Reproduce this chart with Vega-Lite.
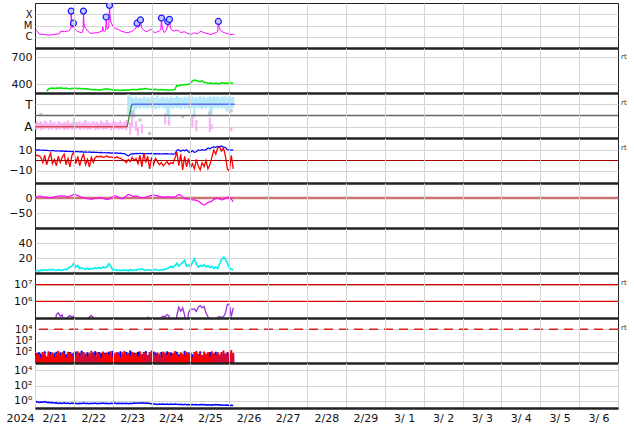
{
"$schema":"https://vega.github.io/schema/vega-lite/v6.json",
"padding":{"left":5,"top":2,"right":2,"bottom":0},
"background":"white",
"spacing":0,
"bounds":"flush",
"config":{
 "view":{"stroke":"#222","strokeWidth":1},
 "axis":{"labelFont":"DejaVu Sans","labelFontSize":11,"labelColor":"#111","gridColor":"#d4d4d4","gridWidth":1,"ticks":false,"domain":false,"labelPadding":3,"labelOverlap":false},
 "text":{"font":"DejaVu Sans"}
},
"datasets":{
 "xr":[{"d":0,"v":2.3e-6},{"d":0.03,"v":3.7e-6},{"d":0.07,"v":2.8e-6},{"d":0.12,"v":1.6e-6},{"d":0.18,"v":1.7e-6},{"d":0.25,"v":1.6e-6},{"d":0.33,"v":1.4e-6},{"d":0.42,"v":1.5e-6},{"d":0.5,"v":1.6e-6},{"d":0.57,"v":1.7e-6},{"d":0.63,"v":1.9e-6},{"d":0.67,"v":3.2e-6},{"d":0.72,"v":2.9e-6},{"d":0.76,"v":2.8e-6},{"d":0.8,"v":3.1e-6},{"d":0.85,"v":3.2e-6},{"d":0.89,"v":3.7e-6},{"d":0.925,"v":6e-6},{"d":0.931,"v":1.9e-4},{"d":0.945,"v":1.5e-5},{"d":0.956,"v":6.4e-6},{"d":0.975,"v":9e-6},{"d":0.99,"v":1.6e-5},{"d":1.01,"v":6e-6},{"d":1.033,"v":4.6e-6},{"d":1.07,"v":3.5e-6},{"d":1.1,"v":2.8e-6},{"d":1.15,"v":2.6e-6},{"d":1.19,"v":2.3e-6},{"d":1.23,"v":2.6e-6},{"d":1.24,"v":5e-6},{"d":1.247,"v":1.9e-4},{"d":1.26,"v":1.5e-5},{"d":1.273,"v":9e-6},{"d":1.31,"v":5e-6},{"d":1.359,"v":3.2e-6},{"d":1.4,"v":2.4e-6},{"d":1.445,"v":2e-6},{"d":1.53,"v":2.2e-6},{"d":1.616,"v":2.3e-6},{"d":1.66,"v":2.6e-6},{"d":1.702,"v":3.2e-6},{"d":1.73,"v":3e-6},{"d":1.745,"v":7.4e-6},{"d":1.76,"v":3.5e-6},{"d":1.787,"v":2.8e-6},{"d":1.81,"v":3.2e-6},{"d":1.825,"v":6e-6},{"d":1.83,"v":5.7e-5},{"d":1.845,"v":8e-6},{"d":1.865,"v":4.6e-6},{"d":1.9,"v":8e-6},{"d":1.916,"v":6.2e-4},{"d":1.935,"v":4e-5},{"d":1.959,"v":1.8e-5},{"d":2.0,"v":9e-6},{"d":2.045,"v":6.4e-6},{"d":2.09,"v":5e-6},{"d":2.13,"v":4.6e-6},{"d":2.17,"v":3.8e-6},{"d":2.216,"v":3.2e-6},{"d":2.3,"v":2.6e-6},{"d":2.388,"v":2.3e-6},{"d":2.43,"v":2.6e-6},{"d":2.473,"v":2.8e-6},{"d":2.52,"v":3.4e-6},{"d":2.559,"v":4.6e-6},{"d":2.6,"v":6e-6},{"d":2.627,"v":1.6e-5},{"d":2.645,"v":7e-6},{"d":2.662,"v":6.4e-6},{"d":2.69,"v":8e-6},{"d":2.713,"v":3.1e-5},{"d":2.74,"v":7e-6},{"d":2.773,"v":4.6e-6},{"d":2.82,"v":3.5e-6},{"d":2.859,"v":2.8e-6},{"d":2.92,"v":3.5e-6},{"d":2.987,"v":4.6e-6},{"d":3.03,"v":3.2e-6},{"d":3.073,"v":2.3e-6},{"d":3.12,"v":2.6e-6},{"d":3.159,"v":2.8e-6},{"d":3.21,"v":3.4e-6},{"d":3.24,"v":5e-6},{"d":3.253,"v":4.6e-5},{"d":3.27,"v":8e-6},{"d":3.287,"v":4.6e-6},{"d":3.33,"v":2.3e-6},{"d":3.37,"v":3.5e-6},{"d":3.4,"v":6e-6},{"d":3.416,"v":2.3e-5},{"d":3.435,"v":1e-5},{"d":3.458,"v":3.5e-5},{"d":3.48,"v":8e-6},{"d":3.501,"v":4.6e-6},{"d":3.55,"v":3.5e-6},{"d":3.587,"v":3.2e-6},{"d":3.63,"v":3.8e-6},{"d":3.673,"v":3.7e-6},{"d":3.72,"v":3e-6},{"d":3.758,"v":2.3e-6},{"d":3.8,"v":2.6e-6},{"d":3.844,"v":2.8e-6},{"d":3.89,"v":2.3e-6},{"d":3.93,"v":2e-6},{"d":3.97,"v":1.8e-6},{"d":4.015,"v":1.6e-6},{"d":4.06,"v":1.9e-6},{"d":4.101,"v":2.3e-6},{"d":4.14,"v":2e-6},{"d":4.187,"v":1.9e-6},{"d":4.23,"v":2.5e-6},{"d":4.273,"v":3.2e-6},{"d":4.31,"v":2.6e-6},{"d":4.358,"v":2.3e-6},{"d":4.4,"v":2e-6},{"d":4.444,"v":1.9e-6},{"d":4.49,"v":1.7e-6},{"d":4.53,"v":1.6e-6},{"d":4.6,"v":2e-6},{"d":4.658,"v":2.3e-6},{"d":4.7,"v":3e-6},{"d":4.718,"v":2.3e-5},{"d":4.74,"v":7e-6},{"d":4.77,"v":3.7e-6},{"d":4.82,"v":2.8e-6},{"d":4.872,"v":2.3e-6},{"d":4.92,"v":2e-6},{"d":4.958,"v":1.9e-6},{"d":5.0,"v":1.7e-6},{"d":5.044,"v":1.6e-6},{"d":5.09,"v":1.7e-6},{"d":5.13,"v":1.6e-6}],
 "fl":[{"d":0.931,"v":1.9e-4},{"d":0.99,"v":1.6e-5},{"d":1.247,"v":1.9e-4},{"d":1.83,"v":5.7e-5},{"d":1.916,"v":6.2e-4},{"d":2.627,"v":1.6e-5},{"d":2.713,"v":3.1e-5},{"d":3.253,"v":4.6e-5},{"d":3.416,"v":2.3e-5},{"d":3.458,"v":3.5e-5},{"d":4.718,"v":2.3e-5}],
 "sec":[{"d":0,"s":1,"g":"a"},{"d":2.37,"s":1,"g":"a"},{"d":2.37,"s":1,"g":"b"},{"d":2.49,"s":3,"g":"b"},{"d":2.49,"s":3,"g":"c"},{"d":5.13,"s":3,"g":"c"}],
 "ts":[
{"d":0,"alo":0.8,"ahi":1.3,"bt":10.5,"bz":4,"dst":3,"cy":3,"pu":2e4,"pr":45,"pb":60,"bl":0.6},
{"d":0.05,"alo":0.75,"ahi":1.45,"bt":10,"bz":5,"dst":4,"cy":3.5,"pu":2e4,"pr":80,"pb":40,"bl":0.7},
{"d":0.1,"alo":0.85,"ahi":1.35,"bt":10.2,"bz":4.5,"dst":6,"cy":2.5,"pu":2e4,"pr":60,"pb":90,"bl":0.55},
{"d":0.15,"alo":0.7,"ahi":1.5,"gr":2.1,"bt":9.8,"bz":3,"dst":6,"cy":4,"pu":2e4,"pr":30,"pb":70,"bl":0.65},
{"d":0.2,"alo":0.8,"ahi":1.3,"bt":10,"bz":-2,"dst":4,"cy":3.5,"pu":2e4,"pr":95,"pb":50,"bl":0.6},
{"d":0.25,"alo":0.78,"ahi":1.55,"bt":9.6,"bz":5,"dst":3,"cy":4.5,"pu":2e4,"pr":70,"pb":110,"bl":0.7},
{"d":0.3,"sw":320,"alo":0.9,"ahi":1.4,"bt":9.8,"bz":-4,"dst":3,"cy":3.5,"pu":2e4,"pr":40,"pb":35,"bl":0.55},
{"d":0.35,"sw":345,"alo":0.72,"ahi":1.3,"bt":9.5,"bz":2,"dst":2,"cy":4.5,"pu":2e4,"pr":110,"pb":80,"bl":0.6},
{"d":0.4,"sw":352,"alo":0.82,"ahi":1.6,"bt":9.3,"bz":7,"dst":1,"cy":4,"pu":2e4,"pr":55,"pb":95,"bl":0.5},
{"d":0.45,"sw":355,"alo":0.75,"ahi":1.35,"bt":9.6,"bz":-3,"dst":2,"cy":5,"pu":2e4,"pr":85,"pb":45,"bl":0.55},
{"d":0.5,"sw":350,"alo":0.88,"ahi":1.45,"bt":9.2,"bz":1,"dst":4,"cy":4,"pu":2e4,"pr":35,"pb":75,"bl":0.45},
{"d":0.55,"sw":356,"alo":0.7,"ahi":1.25,"bt":9,"bz":-5,"dst":5,"cy":3.5,"pu":1.6e5,"pr":70,"pb":100,"bl":0.5},
{"d":0.6,"sw":352,"alo":0.8,"ahi":1.5,"bt":9.3,"bz":4,"dst":6,"cy":4.5,"pu":2e5,"pr":120,"pb":55,"bl":0.4},
{"d":0.65,"sw":358,"alo":0.76,"ahi":1.4,"bt":8.9,"bz":-2,"dst":7,"cy":4,"pu":1.3e5,"pr":50,"pb":85,"bl":0.45},
{"d":0.7,"sw":354,"alo":0.85,"ahi":1.3,"bt":9.1,"bz":3,"dst":6,"cy":3.5,"pu":1.5e5,"pr":90,"pb":40,"bl":0.4},
{"d":0.75,"sw":350,"alo":0.7,"ahi":1.45,"bt":8.8,"bz":6,"dst":7,"cy":5,"pu":2e4,"pr":65,"pb":120,"bl":0.48},
{"d":0.8,"sw":355,"alo":0.8,"ahi":1.35,"bt":9,"bz":-4,"dst":5,"cy":4.5,"pu":2e4,"pr":30,"pb":60,"bl":0.4},
{"d":0.85,"sw":348,"alo":0.74,"ahi":1.55,"bt":8.6,"bz":2,"dst":4,"cy":6,"pu":1.2e5,"pr":100,"pb":50,"bl":0.45},
{"d":0.9,"sw":345,"alo":0.86,"ahi":1.3,"bt":8.8,"bz":-6,"dst":6,"cy":8,"pu":1.4e5,"pr":75,"pb":95,"bl":0.38},
{"d":0.95,"sw":352,"alo":0.72,"ahi":1.4,"bt":8.5,"bz":5,"dst":9,"cy":9,"pu":1.1e5,"pr":45,"pb":70,"bl":0.45},
{"d":1.0,"sw":350,"alo":0.8,"ahi":1.75,"bt":8.7,"bz":8,"dst":12,"cy":13,"pu":1.3e5,"pr":85,"pb":40,"bl":0.4},
{"d":1.05,"sw":355,"alo":0.78,"ahi":1.4,"bt":8.4,"bz":-3,"dst":11,"cy":8,"pu":2e4,"pr":60,"pb":105,"bl":0.42},
{"d":1.1,"sw":348,"alo":0.9,"ahi":1.35,"bt":8.6,"bz":4,"dst":8,"cy":10,"pu":2e4,"pr":110,"pb":55,"bl":0.38},
{"d":1.15,"sw":352,"alo":0.7,"ahi":1.5,"bt":8.2,"bz":-5,"dst":5,"cy":6,"pu":2e4,"pr":40,"pb":80,"bl":0.44},
{"d":1.2,"sw":346,"alo":0.82,"ahi":1.3,"bt":8.5,"bz":2,"dst":3,"cy":7,"pu":2e4,"pr":70,"pb":125,"bl":0.4},
{"d":1.25,"sw":350,"alo":0.75,"ahi":1.45,"bt":8.1,"bz":6,"dst":2,"cy":6,"pu":2e4,"pr":95,"pb":45,"bl":0.46},
{"d":1.3,"sw":345,"alo":0.85,"ahi":1.6,"bt":8.3,"bz":-4,"dst":0,"cy":5,"pu":2e4,"pr":55,"pb":70,"bl":0.4},
{"d":1.35,"sw":348,"alo":0.72,"ahi":1.35,"bt":7.9,"bz":1,"dst":-2,"cy":6.5,"pu":2e4,"pr":35,"pb":90,"bl":0.42},
{"d":1.4,"sw":342,"alo":0.8,"ahi":1.4,"bt":8.2,"bz":-6,"dst":-3,"cy":5,"pu":1.2e5,"pr":80,"pb":60,"bl":0.37},
{"d":1.45,"sw":340,"alo":0.76,"ahi":1.3,"bt":7.8,"bz":3,"dst":-4,"cy":6,"pu":1.4e5,"pr":125,"pb":50,"bl":0.43},
{"d":1.5,"sw":336,"alo":0.88,"ahi":1.5,"bt":8,"bz":-2,"dst":-2,"cy":5.5,"pu":1.1e5,"pr":60,"pb":85,"bl":0.4},
{"d":1.55,"sw":340,"alo":0.7,"ahi":1.35,"bt":7.7,"bz":3,"dst":0,"cy":7,"pu":2e4,"pr":45,"pb":115,"bl":0.45},
{"d":1.6,"sw":335,"alo":0.8,"ahi":1.45,"bt":7.9,"bz":4,"dst":-1,"cy":6,"pu":2e4,"pr":90,"pb":40,"bl":0.38},
{"d":1.65,"sw":332,"alo":0.75,"ahi":1.3,"bt":7.5,"bz":3.5,"dst":1,"cy":7.5,"pu":2e4,"pr":70,"pb":95,"bl":0.42},
{"d":1.7,"sw":336,"alo":0.85,"ahi":1.55,"bt":7.8,"bz":4,"dst":1,"cy":6,"pu":2e4,"pr":30,"pb":75,"bl":0.4},
{"d":1.75,"sw":340,"alo":0.72,"ahi":1.4,"bt":7.4,"bz":3,"dst":-1,"cy":8,"pu":2e4,"pr":105,"pb":55,"bl":0.46},
{"d":1.8,"sw":345,"alo":0.8,"ahi":1.35,"bt":7.6,"bz":3.5,"dst":-3,"cy":7,"pu":2e4,"pr":65,"pb":80,"bl":0.4},
{"d":1.85,"sw":348,"alo":0.78,"ahi":1.6,"bt":7.2,"bz":4.5,"dst":-5,"cy":8,"pu":2e4,"pr":85,"pb":45,"bl":0.43},
{"d":1.9,"sw":342,"alo":0.9,"ahi":1.4,"bt":7.5,"bz":3,"dst":-4,"cy":12.5,"pu":2e4,"pr":50,"pb":100,"bl":0.38},
{"d":1.95,"sw":338,"alo":0.7,"ahi":1.3,"bt":7.1,"bz":3.5,"dst":0,"cy":9,"pu":2e4,"pr":115,"pb":65,"bl":0.42},
{"d":2.0,"sw":335,"alo":0.82,"ahi":1.45,"bt":7.3,"bz":3,"dst":4,"cy":4,"pu":2e4,"pr":40,"pb":120,"bl":0.4},
{"d":2.05,"sw":332,"alo":0.75,"ahi":1.5,"bt":7,"bz":2.5,"dst":7,"cy":4.5,"pu":2e4,"pr":75,"pb":50,"bl":0.45},
{"d":2.1,"sw":336,"alo":0.86,"ahi":1.35,"bt":7.2,"bz":3.5,"dst":6,"cy":3.5,"pu":2e4,"pr":95,"pb":70,"bl":0.4},
{"d":2.15,"sw":330,"alo":0.72,"ahi":1.4,"bt":6.8,"bz":2.5,"dst":2,"cy":4,"pu":2e4,"pr":60,"pb":85,"bl":0.43},
{"d":2.2,"sw":328,"alo":0.8,"ahi":1.55,"bt":7,"bz":2,"dst":-1,"cy":3,"pu":2e4,"pr":35,"pb":110,"bl":0.39},
{"d":2.25,"sw":332,"alo":0.76,"ahi":1.3,"bt":6.6,"bz":1,"dst":-2,"cy":4,"pu":2e4,"pr":88,"pb":45,"bl":0.44},
{"d":2.3,"sw":330,"alo":0.85,"ahi":1.45,"bt":6.5,"bz":0,"dst":2,"cy":3.5,"pu":2e4,"pr":120,"pb":60,"bl":0.4},
{"d":2.35,"sw":335,"alo":0.7,"ahi":1.6,"bt":5.5,"bz":-2,"dst":7,"cy":4,"pu":2e4,"pr":55,"pb":95,"bl":0.42},
{"d":2.4,"sw":332,"tlo":2.1,"thi":3.9,"bt":4.2,"bz":1,"dst":11,"cy":3,"pu":2e4,"pr":70,"pb":75,"bl":0.38},
{"d":2.45,"sw":336,"alo":0.3,"ahi":1.4,"tlo":2.0,"thi":3.7,"bt":5.8,"bz":-1,"dst":10,"cy":4.5,"pu":2e4,"pr":45,"pb":130,"bl":0.44},
{"d":2.5,"sw":340,"alo":1.0,"ahi":2.5,"tlo":2.7,"thi":3.6,"gr":2.3,"bt":6.6,"bz":3,"dst":7,"cy":3.5,"pu":2e4,"pr":100,"pb":55,"bl":0.4},
{"d":2.55,"sw":338,"tlo":1.8,"thi":3.5,"bt":6.4,"bz":0,"dst":5,"cy":4,"pu":2e4,"pr":65,"pb":80,"bl":0.46},
{"d":2.6,"sw":335,"alo":0.6,"ahi":1.5,"tlo":2.6,"thi":3.7,"bt":6.8,"bz":2,"dst":6,"cy":3.5,"pu":2e4,"pr":80,"pb":40,"bl":0.42},
{"d":2.65,"sw":338,"alo":0.2,"ahi":1.0,"tlo":2.7,"thi":3.5,"bt":6.5,"bz":-3,"dst":4,"cy":5,"pu":2e4,"pr":38,"pb":100,"bl":0.48},
{"d":2.7,"sw":345,"tlo":2.6,"thi":3.6,"gr":1.6,"bt":6.9,"bz":5,"dst":2,"cy":4.5,"pu":2e4,"pr":110,"pb":70,"bl":0.44},
{"d":2.75,"sw":342,"alo":0.4,"ahi":1.2,"tlo":2.8,"thi":3.5,"bt":6.6,"bz":-6,"dst":1,"cy":5.5,"pu":2e4,"pr":58,"pb":60,"bl":0.5},
{"d":2.8,"sw":346,"tlo":2.65,"thi":3.7,"bt":6.8,"bz":7,"dst":1,"cy":4,"pu":2e4,"pr":90,"pb":90,"bl":0.46},
{"d":2.85,"sw":350,"tlo":2.7,"thi":3.55,"bt":6.4,"bz":-2,"dst":2,"cy":3.5,"pu":2e4,"pr":72,"pb":115,"bl":0.42},
{"d":2.9,"sw":345,"tlo":2.6,"thi":3.65,"bt":6.7,"bz":4,"dst":4,"cy":4.5,"pu":1.2e5,"pr":42,"pb":50,"bl":0.45},
{"d":2.95,"sw":342,"tlo":2.75,"thi":3.5,"gr":0.4,"bt":6.5,"bz":-8,"dst":7,"cy":4,"pu":2e4,"pr":95,"pb":75,"bl":0.4},
{"d":3.0,"sw":340,"tlo":2.6,"thi":3.7,"bt":6.8,"bz":3,"dst":9,"cy":3.5,"pu":2e4,"pr":130,"pb":45,"bl":0.36},
{"d":3.05,"sw":338,"tlo":2.7,"thi":3.55,"bt":6.4,"bz":-4,"dst":10,"cy":4,"pu":2e4,"pr":60,"pb":105,"bl":0.33},
{"d":3.1,"sw":342,"tlo":2.55,"thi":3.6,"bt":6.6,"bz":2,"dst":9,"cy":5,"pu":2e4,"pr":48,"pb":85,"bl":0.35},
{"d":3.15,"sw":336,"tlo":2.7,"thi":3.75,"bt":6.3,"bz":-1,"dst":7,"cy":4,"pu":2e4,"pr":85,"pb":60,"bl":0.3},
{"d":3.2,"sw":334,"tlo":2.65,"thi":3.5,"bt":6.6,"bz":-4,"dst":5,"cy":3.5,"pu":2e4,"pr":70,"pb":40,"bl":0.34},
{"d":3.25,"sw":338,"tlo":2.8,"thi":3.6,"bt":6.2,"bz":-2,"dst":4,"cy":4.5,"pu":1.1e5,"pr":35,"pb":95,"bl":0.31},
{"d":3.3,"sw":336,"tlo":2.6,"thi":3.7,"bt":6.5,"bz":-5,"dst":3,"cy":4,"pu":1.3e5,"pr":105,"pb":70,"bl":0.35},
{"d":3.35,"sw":332,"alo":1.2,"ahi":2.2,"tlo":2.7,"thi":3.55,"bt":6.4,"bz":-3,"dst":3,"cy":5,"pu":1.2e5,"pr":80,"pb":50,"bl":0.3},
{"d":3.4,"sw":335,"tlo":2.0,"thi":3.65,"bt":6.6,"bz":-1,"dst":4,"cy":6,"pu":1.6e5,"pr":55,"pb":110,"bl":0.33},
{"d":3.45,"sw":330,"alo":1.1,"ahi":1.9,"tlo":1.6,"thi":3.5,"bt":6.2,"bz":-4,"dst":4,"cy":7,"pu":1.3e5,"pr":92,"pb":65,"bl":0.29},
{"d":3.5,"sw":334,"tlo":2.7,"thi":3.7,"bt":6.4,"bz":-2,"dst":3,"cy":9,"pu":2e4,"pr":45,"pb":85,"bl":0.33},
{"d":3.55,"sw":336,"tlo":2.6,"thi":3.55,"bt":6.1,"bz":-3,"dst":3,"cy":7,"pu":2e4,"pr":75,"pb":45,"bl":0.3},
{"d":3.6,"sw":340,"tlo":2.75,"thi":3.6,"bt":6.3,"bz":2,"dst":4,"cy":10,"pu":2e4,"pr":115,"pb":80,"bl":0.34},
{"d":3.65,"sw":385,"tlo":2.65,"thi":3.75,"bt":9.8,"bz":8,"dst":8,"cy":13,"pu":1.5e5,"pr":62,"pb":100,"bl":0.31},
{"d":3.7,"sw":378,"tlo":2.7,"thi":3.6,"bt":10.4,"bz":-5,"dst":11,"cy":9,"pu":4.5e5,"pr":40,"pb":60,"bl":0.29},
{"d":3.75,"sw":392,"tlo":2.55,"thi":3.65,"bt":8.6,"bz":6,"dst":9,"cy":12,"pu":2.5e5,"pr":88,"pb":70,"bl":0.32},
{"d":3.8,"sw":388,"tlo":2.8,"thi":3.55,"gr":1.9,"bt":10,"bz":-9,"dst":3,"cy":14,"pu":4e5,"pr":70,"pb":45,"bl":0.28},
{"d":3.85,"sw":395,"tlo":2.6,"thi":3.7,"bt":9.2,"bz":4,"dst":-2,"cy":17,"pu":1.5e5,"pr":50,"pb":120,"bl":0.31},
{"d":3.9,"sw":392,"tlo":2.7,"thi":3.6,"bt":10.2,"bz":-6,"dst":-3,"cy":9,"pu":2e4,"pr":100,"pb":55,"bl":0.28},
{"d":3.95,"sw":398,"tlo":2.6,"thi":3.75,"bt":8.2,"bz":2,"dst":-3,"cy":11,"pu":2e5,"pr":65,"pb":85,"bl":0.3},
{"d":4.0,"sw":410,"tlo":2.75,"thi":3.55,"bt":7.6,"bz":-7,"dst":-5,"cy":8,"pu":3.5e5,"pr":85,"pb":75,"bl":0.27},
{"d":4.05,"sw":432,"alo":0.9,"ahi":2.1,"tlo":2.65,"thi":3.7,"bt":9.4,"bz":-3,"dst":-6,"cy":14,"pu":3.2e5,"pr":35,"pb":60,"bl":0.3},
{"d":4.1,"sw":445,"tlo":1.8,"thi":3.6,"bt":7.8,"bz":-8,"dst":-6,"cy":19,"pu":3.6e5,"pr":95,"pb":40,"bl":0.28},
{"d":4.15,"sw":440,"alo":0.6,"ahi":1.6,"tlo":2.7,"thi":3.65,"bt":8.4,"bz":1,"dst":-8,"cy":12,"pu":2.5e5,"pr":120,"pb":90,"bl":0.3},
{"d":4.2,"sw":430,"tlo":2.6,"thi":3.55,"bt":10.2,"bz":-5,"dst":-10,"cy":8,"pu":4.5e5,"pr":55,"pb":65,"bl":0.26},
{"d":4.25,"sw":425,"tlo":2.7,"thi":3.75,"bt":9.6,"bz":-9,"dst":-15,"cy":10,"pu":5.5e5,"pr":78,"pb":110,"bl":0.29},
{"d":4.3,"sw":435,"tlo":2.55,"thi":3.6,"bt":10.3,"bz":-2,"dst":-20,"cy":9,"pu":4e5,"pr":45,"pb":50,"bl":0.27},
{"d":4.35,"sw":420,"tlo":2.7,"thi":3.7,"bt":9.8,"bz":-6,"dst":-23,"cy":11,"pu":5e5,"pr":105,"pb":80,"bl":0.3},
{"d":4.4,"sw":415,"tlo":2.6,"thi":3.55,"bt":10.4,"bz":0,"dst":-20,"cy":8,"pu":2e5,"pr":68,"pb":60,"bl":0.26},
{"d":4.45,"sw":405,"tlo":2.75,"thi":3.65,"bt":12,"bz":-8,"dst":-15,"cy":10,"pu":1.2e5,"pr":90,"pb":45,"bl":0.28},
{"d":4.5,"sw":412,"alo":0.5,"ahi":1.8,"tlo":1.9,"thi":3.7,"gr":2.2,"bt":11.2,"bz":-4,"dst":-13,"cy":7,"pu":2e4,"pr":40,"pb":95,"bl":0.25},
{"d":4.55,"sw":408,"alo":0.8,"ahi":1.2,"tlo":2.2,"thi":3.6,"bt":12.4,"bz":3,"dst":-10,"cy":9,"pu":2e4,"pr":110,"pb":70,"bl":0.28},
{"d":4.6,"sw":402,"tlo":2.65,"thi":3.75,"bt":13,"bz":10,"dst":-5,"cy":6,"pu":2e4,"pr":75,"pb":55,"bl":0.26},
{"d":4.65,"sw":410,"tlo":2.7,"thi":3.6,"bt":12.6,"bz":6,"dst":-2,"cy":8,"pu":2e4,"pr":55,"pb":100,"bl":0.29},
{"d":4.7,"sw":405,"tlo":2.6,"thi":3.7,"bt":13.6,"bz":12,"dst":0,"cy":6,"pu":1.1e5,"pr":85,"pb":85,"bl":0.25},
{"d":4.75,"sw":400,"tlo":2.75,"thi":3.55,"bt":13.2,"bz":13,"dst":-3,"cy":12,"pu":1.2e5,"pr":60,"pb":40,"bl":0.27},
{"d":4.8,"sw":415,"tlo":2.6,"thi":3.7,"bt":13.8,"bz":9,"dst":-6,"cy":18,"pu":1.1e5,"pr":95,"pb":65,"bl":0.24},
{"d":4.85,"sw":408,"tlo":2.7,"thi":3.65,"bt":12.8,"bz":12,"dst":-5,"cy":21,"pu":1.2e5,"pr":130,"pb":75,"bl":0.26},
{"d":4.9,"sw":412,"tlo":2.55,"thi":3.75,"bt":12.4,"bz":4,"dst":-1,"cy":19,"pu":2e5,"pr":70,"pb":60,"bl":0.23},
{"d":4.95,"sw":405,"tlo":2.3,"thi":3.6,"bt":10.4,"bz":-8,"dst":2,"cy":13,"pu":6.5e5,"pr":50,"pb":90,"bl":0.25},
{"d":5.0,"sw":418,"tlo":2.7,"thi":3.7,"bt":10.2,"bz":-10,"dst":3,"cy":7,"pu":6.5e5,"pr":90,"pb":55,"bl":0.22},
{"d":5.05,"sw":410,"alo":0.6,"ahi":1.0,"tlo":2.6,"thi":3.6,"gr":2.4,"bt":10,"bz":5,"dst":-4,"cy":5,"pu":1.2e5,"pr":140,"pb":70,"bl":0.24},
{"d":5.1,"sw":408,"tlo":2.7,"thi":3.65,"bt":10.1,"bz":-8,"dst":-12,"cy":4,"pu":4e5,"pr":80,"pb":60,"bl":0.22}
 ]
},
"vconcat":[
 {"width":583,"height":45,"layer":[
  {"data":{"name":"xr"},"mark":{"type":"line","color":"#ff00ff","strokeWidth":1,"clip":true},
   "encoding":{"x":{"field":"d","type":"quantitative","title":null,"scale":{"domain":[0,15],"nice":false,"zero":false},"axis":{"values":[1,2,3,4,5,6,7,8,9,10,11,12,13,14],"labels":false,"grid":true,"domain":true,"domainColor":"#222","domainWidth":2.5,"zindex":1}},
    "y":{"field":"v","type":"quantitative","title":null,"scale":{"type":"log","domain":[1e-7,1e-3],"nice":false},"axis":{"values":[1e-6,1e-5,1e-4],"labelExpr":"datum.value < 5e-6 ? 'C' : (datum.value < 5e-5 ? 'M' : 'X')","grid":true,"labelFontSize":10}}}},
  {"data":{"name":"fl"},"mark":{"type":"point","filled":true,"fill":"#c4c8ff","stroke":"#1a1aff","strokeWidth":1.2,"size":36,"opacity":1,"clip":true},
   "encoding":{"x":{"field":"d","type":"quantitative","title":null,"scale":{"domain":[0,15],"nice":false,"zero":false}},
    "y":{"field":"v","type":"quantitative","title":null,"scale":{"type":"log","domain":[1e-7,1e-3],"nice":false}}}}
 ]},
 {"width":583,"height":45,"layer":[
  {"data":{"name":"ts"},"mark":{"type":"line","color":"#00e600","strokeWidth":1.5,"clip":true},
   "encoding":{"x":{"field":"d","type":"quantitative","title":null,"scale":{"domain":[0,15],"nice":false,"zero":false},"axis":{"values":[1,2,3,4,5,6,7,8,9,10,11,12,13,14],"labels":false,"grid":true,"domain":true,"domainColor":"#222","domainWidth":2.5,"zindex":1}},
    "y":{"field":"sw","type":"quantitative","title":null,"scale":{"domain":[300,800],"nice":false,"zero":false},"axis":{"values":[400,500,600,700],"grid":true}}}},
  {"data":{"values":[{}]},"mark":{"type":"text","text":"rt","fontSize":7,"align":"left","baseline":"middle","dx":3,"color":"#333"},
   "encoding":{"x":{"datum":15},"y":{"datum":700}}}
 ]},
 {"width":583,"height":45,"layer":[
  {"data":{"name":"ts"},"mark":{"type":"rule","color":"#f6b4f2","strokeWidth":2.2,"clip":true},
   "encoding":{"x":{"field":"d","type":"quantitative","title":null,"scale":{"domain":[0,15],"nice":false,"zero":false},"axis":{"values":[1,2,3,4,5,6,7,8,9,10,11,12,13,14],"labels":false,"grid":true,"domain":true,"domainColor":"#222","domainWidth":2.5,"zindex":1}},
    "y":{"field":"alo","type":"quantitative","title":null,"scale":{"domain":[0,4],"nice":false,"zero":false},"axis":{"values":[1,3],"labelExpr":"datum.value == 3 ? 'T' : 'A'","grid":true,"labelFontSize":12}},
    "y2":{"field":"ahi"}}},
  {"data":{"name":"ts"},"mark":{"type":"rule","color":"#b4e8fa","strokeWidth":2.2,"clip":true},
   "encoding":{"x":{"field":"d","type":"quantitative","title":null,"scale":{"domain":[0,15],"nice":false,"zero":false}},
    "y":{"field":"tlo","type":"quantitative","title":null,"scale":{"domain":[0,4],"nice":false,"zero":false}},
    "y2":{"field":"thi"}}},
  {"data":{"name":"ts"},"mark":{"type":"point","shape":"square","filled":true,"color":"#c8c8c8","size":10,"opacity":1,"clip":true},
   "encoding":{"x":{"field":"d","type":"quantitative","title":null,"scale":{"domain":[0,15],"nice":false,"zero":false}},
    "y":{"field":"gr","type":"quantitative","title":null,"scale":{"domain":[0,4],"nice":false,"zero":false}}}},
  {"data":{"values":[{}]},"mark":{"type":"rule","color":"#666","strokeWidth":1.3},"encoding":{"y":{"datum":2}}},
  {"data":{"name":"sec"},"mark":{"type":"line","strokeWidth":1.3,"clip":true},
   "encoding":{"x":{"field":"d","type":"quantitative","title":null,"scale":{"domain":[0,15],"nice":false,"zero":false}},
    "y":{"field":"s","type":"quantitative","title":null,"scale":{"domain":[0,4],"nice":false,"zero":false}},
    "color":{"field":"g","type":"nominal","legend":null,"scale":{"domain":["a","b","c"],"range":["#e84850","#3c8c3c","#6070f0"]}}}},
  {"data":{"values":[{}]},"mark":{"type":"text","text":"rt","fontSize":7,"align":"left","baseline":"middle","dx":3,"color":"#333"},
   "encoding":{"x":{"datum":15},"y":{"datum":3.1}}}
 ]},
 {"width":583,"height":45,"layer":[
  {"data":{"name":"ts"},"mark":{"type":"line","color":"#0000ff","strokeWidth":1.2,"clip":true},
   "encoding":{"x":{"field":"d","type":"quantitative","title":null,"scale":{"domain":[0,15],"nice":false,"zero":false},"axis":{"values":[1,2,3,4,5,6,7,8,9,10,11,12,13,14],"labels":false,"grid":true,"domain":true,"domainColor":"#222","domainWidth":2.5,"zindex":1}},
    "y":{"field":"bt","type":"quantitative","title":null,"scale":{"domain":[-21.5,21.5],"nice":false,"zero":false},"axis":{"values":[-10,0,10],"grid":true}}}},
  {"data":{"name":"ts"},"mark":{"type":"line","color":"#ff0000","strokeWidth":1.3,"clip":true},
   "encoding":{"x":{"field":"d","type":"quantitative","title":null,"scale":{"domain":[0,15],"nice":false,"zero":false}},
    "y":{"field":"bz","type":"quantitative","title":null,"scale":{"domain":[-21.5,21.5],"nice":false,"zero":false}}}},
  {"data":{"values":[{}]},"mark":{"type":"rule","color":"#aa0000","strokeWidth":1.2},"encoding":{"y":{"datum":0}}},
  {"data":{"values":[{}]},"mark":{"type":"text","text":"rt","fontSize":7,"align":"left","baseline":"middle","dx":3,"color":"#333"},
   "encoding":{"x":{"datum":15},"y":{"datum":12}}}
 ]},
 {"width":583,"height":45,"layer":[
  {"data":{"values":[{}]},"mark":{"type":"rule","color":"#cc7474","strokeWidth":2.5},"encoding":{"y":{"datum":0,"scale":{"domain":[-100,50],"nice":false,"zero":false}}}},
  {"data":{"name":"ts"},"mark":{"type":"line","color":"#ff00ff","strokeWidth":1.2,"interpolate":"monotone","clip":true},
   "encoding":{"x":{"field":"d","type":"quantitative","title":null,"scale":{"domain":[0,15],"nice":false,"zero":false},"axis":{"values":[1,2,3,4,5,6,7,8,9,10,11,12,13,14],"labels":false,"grid":true,"domain":true,"domainColor":"#222","domainWidth":2.5,"zindex":1}},
    "y":{"field":"dst","type":"quantitative","title":null,"scale":{"domain":[-100,50],"nice":false,"zero":false},"axis":{"values":[-50,0],"grid":true}}}}
 ]},
 {"width":583,"height":45,"layer":[
  {"data":{"name":"ts"},"mark":{"type":"line","color":"#00eeee","strokeWidth":1.6,"clip":true},
   "encoding":{"x":{"field":"d","type":"quantitative","title":null,"scale":{"domain":[0,15],"nice":false,"zero":false},"axis":{"values":[1,2,3,4,5,6,7,8,9,10,11,12,13,14],"labels":false,"grid":true,"domain":true,"domainColor":"#222","domainWidth":2.5,"zindex":1}},
    "y":{"field":"cy","type":"quantitative","title":null,"scale":{"domain":[0,60],"nice":false,"zero":false},"axis":{"values":[20,40],"grid":true}}}}
 ]},
 {"width":583,"height":45,"layer":[
  {"data":{"values":[{"v":1e6},{"v":1e7}]},"mark":{"type":"rule","color":"#dd0000","strokeWidth":1.2},
   "encoding":{"y":{"field":"v","type":"quantitative","title":null,"scale":{"type":"log","domain":[1e5,5e7],"nice":false}}}},
  {"data":{"name":"ts"},"mark":{"type":"line","color":"#9b2fd9","strokeWidth":1.3,"clip":true},
   "encoding":{"x":{"field":"d","type":"quantitative","title":null,"scale":{"domain":[0,15],"nice":false,"zero":false},"axis":{"values":[1,2,3,4,5,6,7,8,9,10,11,12,13,14],"labels":false,"grid":true,"domain":true,"domainColor":"#222","domainWidth":2.5,"zindex":1}},
    "y":{"field":"pu","type":"quantitative","title":null,"scale":{"type":"log","domain":[1e5,5e7],"nice":false},"axis":{"values":[1e6,1e7],"grid":true,"labelExpr":"'10' + ['⁰','¹','²','³','⁴','⁵','⁶','⁷'][round(log(datum.value)/LN10)]"}}}},
  {"data":{"values":[{}]},"mark":{"type":"text","text":"rt","fontSize":7,"align":"left","baseline":"middle","dx":3,"color":"#333"},
   "encoding":{"x":{"datum":15},"y":{"datum":12500000}}}
 ]},
 {"width":583,"height":45,"layer":[
  {"data":{"name":"ts"},"mark":{"type":"rule","color":"#0000ff","strokeWidth":2,"clip":true},
   "encoding":{"x":{"field":"d","type":"quantitative","title":null,"scale":{"domain":[0,15],"nice":false,"zero":false},"axis":{"values":[1,2,3,4,5,6,7,8,9,10,11,12,13,14],"labels":false,"grid":true,"domain":true,"domainColor":"#222","domainWidth":2.5,"zindex":1}},
    "y":{"field":"pb","type":"quantitative","title":null,"scale":{"type":"log","domain":[10,1e5],"nice":false},"axis":{"values":[100,1000,10000],"grid":true,"labelFontSize":10.5,"labelExpr":"'10' + ['⁰','¹','²','³','⁴','⁵','⁶','⁷'][round(log(datum.value)/LN10)]"}},
    "y2":{"datum":10}}},
  {"data":{"name":"ts"},"mark":{"type":"rule","color":"#ff0000","strokeWidth":2,"clip":true},
   "encoding":{"x":{"field":"d","type":"quantitative","title":null,"scale":{"domain":[0,15],"nice":false,"zero":false}},
    "y":{"field":"pr","type":"quantitative","title":null,"scale":{"type":"log","domain":[10,1e5],"nice":false}},
    "y2":{"datum":10}}},
  {"data":{"values":[{}]},"mark":{"type":"rule","color":"#dd2222","strokeWidth":1.5,"strokeDash":[9,6]},"encoding":{"y":{"datum":10000}}},
  {"data":{"values":[{}]},"mark":{"type":"text","text":"rt","fontSize":7,"align":"left","baseline":"middle","dx":3,"color":"#333"},
   "encoding":{"x":{"datum":15},"y":{"datum":14000}}}
 ]},
 {"width":583,"height":45,"layer":[
  {"data":{"name":"ts"},"mark":{"type":"line","color":"#0000ff","strokeWidth":1.5,"clip":true},
   "encoding":{"x":{"field":"d","type":"quantitative","title":null,"scale":{"domain":[0,15],"nice":false,"zero":false},"axis":{"values":[0,1,2,3,4,5,6,7,8,9,10,11,12,13,14,15],"grid":true,"domain":true,"domainColor":"#222","domainWidth":2.5,"zindex":1,"labelExpr":"['2024','2/21','2/22','2/23','2/24','2/25','2/26','2/27','2/28','2/29','3/ 1','3/ 2','3/ 3','3/ 4','3/ 5','3/ 6'][datum.value]","labelOffset":{"condition":{"test":"datum.value == 0","value":-15},"value":-19.5},"labelBound":false,"labelFlush":false,"labelOverlap":false,"labelPadding":4}},
    "y":{"field":"bl","type":"quantitative","title":null,"scale":{"type":"log","domain":[0.1,1e5],"nice":false},"axis":{"values":[1,100,10000],"grid":true,"labelExpr":"'10' + ['⁰','¹','²','³','⁴','⁵','⁶','⁷'][round(log(datum.value)/LN10)]"}}}}
 ]}
]
}
